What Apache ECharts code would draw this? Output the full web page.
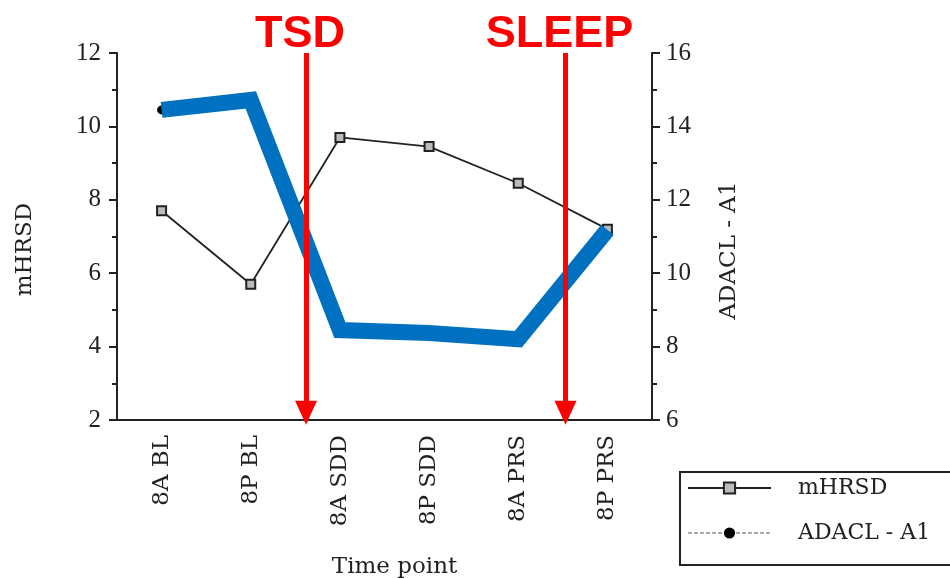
<!DOCTYPE html>
<html>
<head>
<meta charset="utf-8">
<script src="https://cdn.jsdelivr.net/npm/echarts@6/dist/echarts.min.js"></script>
<style>
html,body{margin:0;padding:0;background:#fff;}
#chart{width:950px;height:579px;}
</style>
</head>
<body>
<div id="chart"></div>
<script>
// ---- data ----
var categories = ['8A BL', '8P BL', '8A SDD', '8P SDD', '8A PRS', '8P PRS'];
var mHRSD = [7.7, 5.7, 9.7, 9.45, 8.45, 7.2];
var adacl = [14.45, 14.72, 8.45, 8.37, 8.2, 11.18];
var leftTicks = [2, 4, 6, 8, 10, 12];
var rightTicks = [6, 8, 10, 12, 14, 16];
// annotation events (position in category-index units)
var eventLabels = ['TSD', 'SLEEP'];
var eventPositions = [1.62, 4.53];
var arrowTop = 12;
var arrowEnd = 2.2;

var serif = 'DejaVu Serif';
var numFont = 'Liberation Serif';
var ink = '#222';

var chart = echarts.init(document.getElementById('chart'), null, {renderer: 'canvas'});

var arrowLines = eventLabels.map(function (name, i) {
  return [
    {coord: [eventPositions[i], arrowTop], name: name},
    {coord: [eventPositions[i], arrowEnd]}
  ];
});

var option = {
  animation: false,
  backgroundColor: '#fff',
  grid: {left: 117, right: 298, top: 53, bottom: 159, containLabel: false, outerBoundsMode: 'none'},
  legend: {
    orient: 'vertical',
    left: 680, top: 472,
    width: 268,
    data: ['mHRSD', 'ADACL - A1'],
    borderColor: ink, borderWidth: 2,
    padding: [4, 40, 20, 7],
    itemWidth: 83, itemHeight: 14, itemGap: 21,
    textStyle: {fontFamily: serif, fontSize: 22, color: ink, lineHeight: 24, padding: [0, 0, 0, 22]}
  },
  xAxis: [{
    type: 'category',
    data: categories,
    boundaryGap: true,
    name: 'Time point',
    nameLocation: 'middle',
    nameGap: 136,
    nameTextStyle: {fontFamily: serif, fontSize: 23, color: ink, padding: [0, 0, 0, 20]},
    axisLine: {lineStyle: {color: ink, width: 2}},
    axisTick: {alignWithLabel: true, length: 7, lineStyle: {color: ink, width: 2}},
    axisLabel: {rotate: 90, margin: 15, fontFamily: serif, fontSize: 23, color: ink}
  }, {
    type: 'value', min: -0.5, max: 5.5, show: false
  }],
  yAxis: [{
    type: 'value', min: 2, max: 12, interval: 2,
    name: 'mHRSD', nameLocation: 'middle', nameGap: 80, nameRotate: 90,
    nameTextStyle: {fontFamily: serif, fontSize: 23, color: ink, padding: [0, 26, 0, 0]},
    axisLine: {show: true, onZero: false, lineStyle: {color: ink, width: 2}},
    axisTick: {show: true, length: 8, lineStyle: {color: ink, width: 2}},
    minorTick: {show: true, splitNumber: 2, length: 5, lineStyle: {color: ink, width: 2}},
    splitLine: {show: false},
    axisLabel: {margin: 16, fontFamily: numFont, fontSize: 25, color: ink,
      formatter: function (v) { return leftTicks.indexOf(v) >= 0 ? String(v) : ''; }}
  }, {
    type: 'value', min: 6, max: 16, interval: 2, position: 'right',
    name: 'ADACL - A1', nameLocation: 'middle', nameGap: 66, nameRotate: 90,
    nameTextStyle: {fontFamily: serif, fontSize: 23, color: ink, padding: [0, 28, 0, 0]},
    axisLine: {show: true, onZero: false, lineStyle: {color: ink, width: 2}},
    axisTick: {show: true, length: 8, lineStyle: {color: ink, width: 2}},
    minorTick: {show: true, splitNumber: 2, length: 5, lineStyle: {color: ink, width: 2}},
    splitLine: {show: false},
    axisLabel: {margin: 14, fontFamily: numFont, fontSize: 25, color: ink,
      formatter: function (v) { return rightTicks.indexOf(v) >= 0 ? String(v) : ''; }}
  }],
  series: [{
    name: 'mHRSD', type: 'line', data: mHRSD, yAxisIndex: 0,
    symbol: 'rect', symbolSize: 9,
    lineStyle: {color: ink, width: 1.8},
    itemStyle: {color: '#bbb', borderColor: ink, borderWidth: 2},
    z: 3
  }, {
    name: 'ADACL - A1', type: 'line', data: adacl, yAxisIndex: 1,
    symbol: 'circle', symbolSize: 9,
    lineStyle: {color: '#aaa', width: 3, type: [4, 2]},
    itemStyle: {color: '#000'},
    z: 2
  }, {
    name: 'ADACL overlay', type: 'line', data: adacl, yAxisIndex: 1,
    symbol: 'none',
    lineStyle: {color: '#0070C0', width: 16, cap: 'butt', join: 'miter'},
    z: 4, silent: true
  }, {
    name: 'events', type: 'line', xAxisIndex: 1, yAxisIndex: 0, data: [],
    markLine: {
      silent: true,
      symbol: ['none', 'triangle'],
      symbolSize: [22, 24],
      lineStyle: {color: '#ff0000', width: 5, type: 'solid'},
      label: {show: true, position: 'start', formatter: '{b}', distance: -2, offset: [-6, 2],
        color: '#ff0000', fontFamily: 'Liberation Sans', fontWeight: 'bold', fontSize: 45},
      data: arrowLines
    },
    z: 5
  }]
};
chart.setOption(option);
</script>
</body>
</html>
